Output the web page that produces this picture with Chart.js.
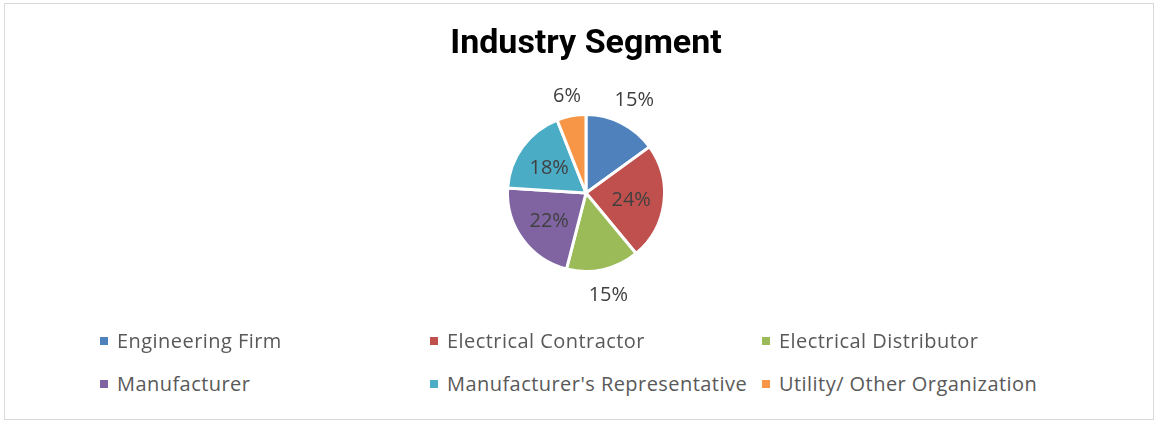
<!DOCTYPE html>
<html>
<head>
<meta charset="utf-8">
<script src="https://cdn.jsdelivr.net/npm/chart.js@4.4.0/dist/chart.umd.min.js"></script>
<style>
    body { margin: 0; background: #fff; }
    .frame {
        position: absolute; left: 4px; top: 3px; width: 1150px; height: 417px;
        border: 1px solid #d9d9d9; box-sizing: border-box;
    }
    .title {
        position: absolute; left: 0; width: 1172px; top: 21px; line-height: 40px;
        text-align: center; font-family: Roboto, sans-serif; font-weight: 700;
        font-size: 34px; color: #000;
    }
    #wrap { position: absolute; left: 0; top: 0; width: 1158px; height: 330px; }
    .legend { position: absolute; left: 0; top: 0; }
    .legend .item {
        position: absolute; font-family: "Open Sans", sans-serif; font-size: 20px;
        letter-spacing: 0.45px; color: #595959; white-space: nowrap; line-height: 24px;
    }
    .legend .box { display: inline-block; width: 8px; height: 8px; margin-right: 9px; vertical-align: 3px; }
</style>
</head>
<body>
<div class="frame"></div>
<div id="wrap"><canvas id="myChart" width="1158" height="330"></canvas></div>
<div class="title">Industry Segment</div>
<div class="legend" id="legend"></div>
<script>
const segments = ['Engineering Firm', 'Electrical Contractor', 'Electrical Distributor',
    'Manufacturer', "Manufacturer's Representative", 'Utility/ Other Organization'];
const shares = [15, 24, 15, 22, 18, 6];
const colors = ['#4f81bd', '#c0504d', '#9bbb59', '#8064a2', '#4bacc6', '#f79646'];

// percent labels, small slices go outside like excel does
const pctLabels = {
    id: 'pctLabels',
    afterDatasetsDraw(chart) {
        const ctx = chart.ctx;
        const meta = chart.getDatasetMeta(0);
        ctx.save();
        ctx.font = '20px "Open Sans"';
        ctx.fillStyle = '#404040';
        ctx.textAlign = 'center';
        ctx.textBaseline = 'middle';
        meta.data.forEach((arc, i) => {
            const p = arc.getProps(['x', 'y', 'startAngle', 'endAngle', 'outerRadius'], true);
            const mid = (p.startAngle + p.endAngle) / 2;
            const dx = Math.cos(mid), dy = Math.sin(mid);
            const txt = shares[i] + '%';
            let r;
            if (shares[i] < 16) {
                const w = ctx.measureText(txt).width;
                r = p.outerRadius + 9 + Math.abs(dx) * w / 2 + Math.abs(dy) * 11;
            } else {
                r = p.outerRadius * 0.58;
            }
            ctx.fillText(txt, p.x + dx * r, p.y + dy * r + 2);
        });
        ctx.restore();
    }
};

let myChart
function init() {
    Chart.defaults.font.family = '"Open Sans"';

    const ctx = document.getElementById('myChart').getContext('2d');
    myChart = new Chart(ctx, {
        type: 'pie',
        data: {
            labels: segments,
            datasets: [{
                data: shares,
                backgroundColor: colors,
                borderColor: '#ffffff',
                borderWidth: 3
            }]
        },
        options: {
            responsive: false,
            animation: false,
            layout: {
                padding: { top: 113, bottom: 57, left: 14, right: 0 }
            },
            plugins: {
                legend: { display: false },
                title: { display: false },
                tooltip: { enabled: false }
            }
        },
        plugins: [pctLabels]
    });

    // legend, 3 columns x 2 rows
    const cols = [100, 430, 762];
    const rows = [329, 372];
    const lg = document.getElementById('legend');
    for (var i = 0; i < segments.length; i++) {
        const el = document.createElement('div');
        el.className = 'item';
        el.style.left = cols[i % 3] + 'px';
        el.style.top = rows[Math.floor(i / 3)] + 'px';
        el.innerHTML = '<span class="box" style="background:' + colors[i] + '"></span>' + segments[i];
        lg.appendChild(el);
    }
}

init();
</script>
</body>
</html>
